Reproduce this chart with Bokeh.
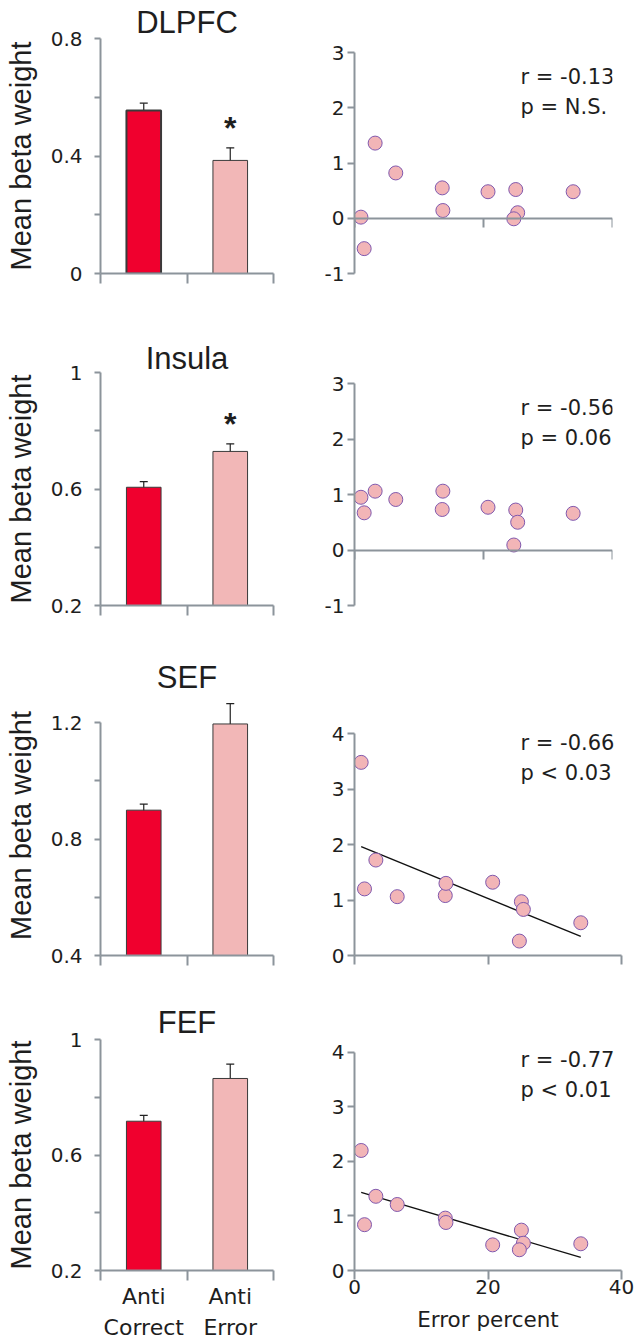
import numpy as np
from bokeh.plotting import figure
from bokeh.layouts import row, column
from bokeh.models import Range1d, FixedTicker, Whisker, TeeHead, ColumnDataSource
from bokeh.core.properties import value
from bokeh.embed import file_html
from bokeh.resources import INLINE

# ---------------- data ----------------
regions = ["DLPFC", "Insula", "SEF", "FEF"]
conditions = ["Anti\nCorrect", "Anti\nError"]

dlpfc_mean = [0.555, 0.385]
dlpfc_sem = [0.025, 0.043]
insula_mean = [0.606, 0.729]
insula_sem = [0.019, 0.026]
sef_mean = [0.899, 1.195]
sef_sem = [0.021, 0.070]
fef_mean = [0.717, 0.865]
fef_sem = [0.020, 0.050]
significant = [True, True, False, False]

bar_yticks = [[0, 0.4, 0.8], [0.2, 0.6, 1.0], [0.4, 0.8, 1.2], [0.2, 0.6, 1.0]]
bar_ytick_labels = [["0", "0.4", "0.8"], ["0.2", "0.6", "1"], ["0.4", "0.8", "1.2"], ["0.2", "0.6", "1"]]
bar_yminor = [[0.2, 0.6], [0.4, 0.8], [0.6, 1.0], [0.4, 0.8]]

error_percent = [1.0, 1.5, 3.2, 6.4, 13.6, 13.7, 20.7, 25.0, 25.3, 24.7, 33.9]
dlpfc_beta = [0.02, -0.55, 1.36, 0.82, 0.55, 0.14, 0.48, 0.52, 0.10, -0.01, 0.48]
insula_beta = [0.95, 0.67, 1.06, 0.91, 0.73, 1.06, 0.77, 0.72, 0.50, 0.09, 0.66]
sef_beta = [3.48, 1.20, 1.72, 1.06, 1.08, 1.30, 1.32, 0.97, 0.83, 0.26, 0.59]
fef_beta = [2.20, 0.84, 1.36, 1.21, 0.96, 0.88, 0.47, 0.74, 0.50, 0.38, 0.49]

r_text = ["r = -0.13", "r = -0.56", "r = -0.66", "r = -0.77"]
p_text = ["p = N.S.", "p = 0.06", "p < 0.03", "p < 0.01"]
show_fit = [False, False, True, True]

sc_yticks = [[-1, 0, 1, 2, 3], [-1, 0, 1, 2, 3], [0, 1, 2, 3, 4], [0, 1, 2, 3, 4]]
sc_ytick_labels = [["-1", "0", "1", "2", "3"], ["-1", "0", "1", "2", "3"],
                   ["0", "1", "2", "3", "4"], ["0", "1", "2", "3", "4"]]
sc_xticks = [0, 20, 40]
sc_xtick_labels = ["0", "20", "40"]

means = [dlpfc_mean, insula_mean, sef_mean, fef_mean]
sems = [dlpfc_sem, insula_sem, sef_sem, fef_sem]
betas = [dlpfc_beta, insula_beta, sef_beta, fef_beta]

# ---------------- layout / style (page pixels) ----------------
ROW_TOP = [0, 300, 640, 985]
ROW_H = [300, 340, 345, 357]
FRAME_TOP = [38, 372, 695, 1039]
BAR_AXIS_PX = [(38, 273), (372, 605), (722, 955), (1039, 1274)]
SC_AXIS_PX = [(52, 273), (383, 605), (733, 955), (1052, 1274)]
SC_FRAME_W = [258, 258, 267, 267]
TITLE_STANDOFF = [-3, -6, 1, -1]
STATS_DROP = [24, 24, 9, 8]
STATS_LEFT_PX = 520
BAR_LEFT, BAR_FRAME_W, BAR_RIGHT = 100, 173, 20
SC_LEFT = 61
SC_TOTAL_W = 343
SC_X0_PX = BAR_LEFT + BAR_FRAME_W + BAR_RIGHT + SC_LEFT

AXIS = "#8C949B"
TXT = "#1e1e1e"
RED = "#F0002E"
PINK = "#F2B7B7"
DOT_FILL = "#F2B5B7"
DOT_LINE = "#8059AE"
BAR_LINE = "#3a3a3a"
SMALL_FONT = "DejaVu Sans"
BIG_FONT = "Liberation Sans"


def ext_range(v_lo, v_hi, px_hi, px_lo, ftop, fbot):
    k = (v_hi - v_lo) / (px_lo - px_hi)
    return Range1d(v_lo - (fbot - px_lo) * k, v_hi + (px_hi - ftop) * k)


def style_axis(ax):
    ax.axis_line_color = AXIS
    ax.axis_line_width = 2
    ax.major_tick_line_color = AXIS
    ax.major_tick_line_width = 2
    ax.minor_tick_line_color = AXIS
    ax.minor_tick_line_width = 2
    ax.major_tick_in = 0
    ax.minor_tick_in = 0
    ax.major_label_text_font = SMALL_FONT
    ax.major_label_text_font_size = "20px"
    ax.major_label_text_color = TXT


def base_fig(w, h, xr, yr, left, right, top, bottom):
    p = figure(width=w, height=h, x_range=xr, y_range=yr, tools="",
               toolbar_location=None, output_backend="svg",
               min_border_left=left, min_border_right=right,
               min_border_top=top, min_border_bottom=bottom)
    p.grid.visible = False
    p.outline_line_color = None
    return p


rows = []
for i, reg in enumerate(regions):
    top = ROW_TOP[i]
    h = ROW_H[i]
    bot = top + h
    last = i == len(regions) - 1
    ftop = FRAME_TOP[i]
    bhi_px, blo_px = BAR_AXIS_PX[i]
    ticks = bar_yticks[i]
    lo, hi = ticks[0], ticks[-1]

    # ---- bar figure ----
    yr = ext_range(lo, hi, bhi_px, blo_px, ftop, blo_px)
    pb = base_fig(BAR_LEFT + BAR_FRAME_W + BAR_RIGHT, h, Range1d(0, len(conditions)), yr,
                  BAR_LEFT, BAR_RIGHT, ftop - top, bot - blo_px)
    pb.title.text = reg
    pb.title.align = "center"
    pb.title.text_font = BIG_FONT
    pb.title.text_font_size = "31px"
    pb.title.text_font_style = "normal"
    pb.title.text_color = TXT
    pb.title.standoff = TITLE_STANDOFF[i]

    xc = [k + 0.5 for k in range(len(conditions))]
    m = means[i]
    s = sems[i]
    src = ColumnDataSource(dict(
        x=xc, top=m, upper=[a + b for a, b in zip(m, s)], lower=[a - b for a, b in zip(m, s)],
        color=[RED, PINK], lw=[2 if i == 0 else 1, 1]))
    pb.vbar(x="x", top="top", bottom=lo, width=0.4, fill_color="color",
            line_color=BAR_LINE, line_width="lw", source=src)
    wh = Whisker(source=src, base="x", upper="upper", lower="lower",
                 line_color="#222222", line_width=1.2,
                 upper_head=TeeHead(size=8, line_color="#222222", line_width=1.2),
                 lower_head=TeeHead(size=8, line_color="#222222", line_width=1.2))
    pb.add_layout(wh)
    if significant[i]:
        pb.text(x=[xc[1]], y=[m[1] + s[1]], text=["*"], y_offset=-20,
                text_align="center", text_baseline="middle",
                text_font=value(BIG_FONT), text_font_size="32px",
                text_font_style="bold", text_color=TXT)

    ya = pb.yaxis[0]
    style_axis(ya)
    ya.ticker = FixedTicker(ticks=ticks, minor_ticks=bar_yminor[i])
    ya.bounds = (lo, hi)
    ya.major_label_overrides = dict(zip(ticks, bar_ytick_labels[i]))
    ya.major_tick_out = 6
    ya.minor_tick_out = 6
    ya.major_label_standoff = 12
    ya.axis_label = "Mean beta weight"
    ya.axis_label_text_font = BIG_FONT
    ya.axis_label_text_font_size = "29px"
    ya.axis_label_text_font_style = "normal"
    ya.axis_label_text_color = TXT
    ya.axis_label_standoff = 11

    xa = pb.xaxis[0]
    style_axis(xa)
    xa.bounds = (0, len(conditions))
    xa.ticker = FixedTicker(ticks=xc if last else [], minor_ticks=list(range(len(conditions) + 1)))
    xa.major_tick_out = 0
    xa.major_tick_line_color = None
    xa.minor_tick_out = 10
    if last:
        xa.major_label_overrides = dict(zip(xc, conditions))
        xa.major_label_standoff = 3
        xa.major_label_text_font_size = "22px"
        xa.major_label_text_line_height = 1.25

    # ---- scatter figure ----
    shi_px, slo_px = SC_AXIS_PX[i]
    fw = SC_FRAME_W[i]
    sticks = sc_yticks[i]
    slo, shi = sticks[0], sticks[-1]
    syr = ext_range(slo, shi, shi_px, slo_px, ftop, slo_px)
    ps = base_fig(SC_TOTAL_W, h, Range1d(sc_xticks[0], sc_xticks[-1]), syr,
                  SC_LEFT, SC_TOTAL_W - SC_LEFT - fw, ftop - top, bot - slo_px)
    y = betas[i]
    if show_fit[i]:
        coef = np.polyfit(error_percent, y, 1)
        xs = [min(error_percent), max(error_percent)]
        ps.line(x=xs, y=list(np.polyval(coef, xs)), line_color="#111111", line_width=1.4)
    ps.scatter(x=error_percent, y=y, marker="circle", size=14,
               fill_color=DOT_FILL, line_color=DOT_LINE, line_width=1)
    xoff = STATS_LEFT_PX - (SC_X0_PX + fw)
    for j, t in enumerate([r_text[i], p_text[i]]):
        ps.text(x=[sc_xticks[-1]], y=[shi], text=[t], x_offset=xoff,
                y_offset=STATS_DROP[i] + 30 * j,
                text_align="left", text_baseline="alphabetic",
                text_font=value(SMALL_FONT), text_font_size="21px", text_color=TXT)

    sya = ps.yaxis[0]
    style_axis(sya)
    sya.ticker = FixedTicker(ticks=sticks)
    sya.bounds = (slo, shi)
    sya.major_label_overrides = dict(zip(sticks, sc_ytick_labels[i]))
    sya.major_tick_out = 7
    sya.major_label_standoff = 3

    sxa = ps.xaxis[0]
    style_axis(sxa)
    sxa.bounds = (sc_xticks[0], sc_xticks[-1])
    if slo < 0:
        sxa.fixed_location = 0
    if last:
        sxa.ticker = FixedTicker(ticks=sc_xticks)
        sxa.major_label_overrides = dict(zip(sc_xticks, sc_xtick_labels))
        sxa.major_tick_out = 9
        sxa.major_label_standoff = 0
        sxa.axis_label = "Error percent"
        sxa.axis_label_text_font = SMALL_FONT
        sxa.axis_label_text_font_size = "21.5px"
        sxa.axis_label_text_font_style = "normal"
        sxa.axis_label_text_color = TXT
        sxa.axis_label_standoff = 10
    else:
        sxa.ticker = FixedTicker(ticks=[], minor_ticks=sc_xticks)
        sxa.major_tick_out = 0
        sxa.minor_tick_out = 9

    rows.append(row(pb, ps))

layout = column(*rows)
open("out.html", "w").write(file_html(layout, INLINE))
